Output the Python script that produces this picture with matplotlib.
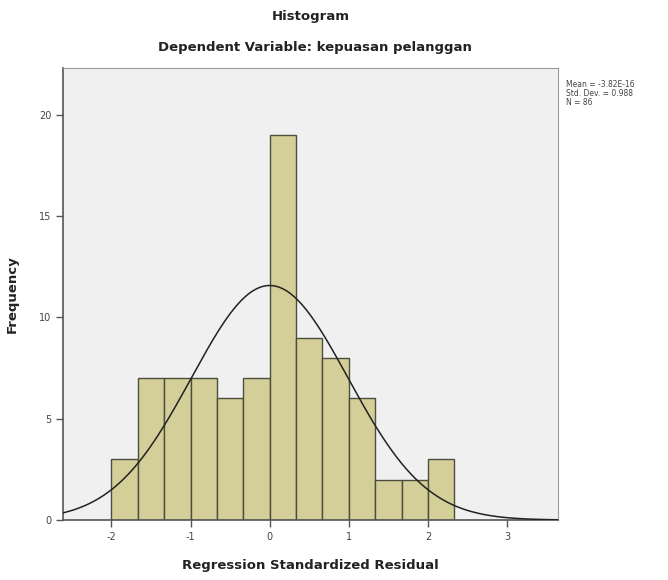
import numpy as np
from matplotlib import pyplot as plt

plt.rcParams['axes.unicode_minus'] = False

# histogram counts (bins start at -2, width 1/3)
bin_start = -2.0
bin_width = 1.0 / 3.0
counts = [3, 7, 7, 7, 6, 7, 19, 9, 8, 6, 2, 2, 3]

mean = -3.82e-16
std = 0.988
n = 86

x_ticks = [-2, -1, 0, 1, 2, 3]
y_ticks = [0, 5, 10, 15, 20]

edges = bin_start + bin_width * np.arange(len(counts))

fig = plt.figure(figsize=(6.68, 5.8), dpi=100)
ax = fig.add_axes([0.0943, 0.1034, 0.741, 0.779])
ax.set_facecolor('#f0f0f0')

ax.bar(edges, counts, width=bin_width, align='edge', color='#d4cf98',
       edgecolor='#4d4d3d', linewidth=1.0, zorder=2)

# fitted normal curve
xs = np.linspace(-2.61, 3.64, 400)
ys = n * bin_width * np.exp(-0.5 * ((xs - mean) / std) ** 2) / (std * np.sqrt(2 * np.pi))
ax.plot(xs, ys, color='#222222', linewidth=1.1, zorder=3)

ax.set_xlim(-2.61, 3.64)
ax.set_ylim(0, 22.3)
ax.set_xticks(x_ticks)
ax.set_yticks(y_ticks)
ax.tick_params(direction='out', length=5, width=1, color='#555555',
               labelsize=7, labelcolor='#444444')

for s in ['left', 'bottom']:
    ax.spines[s].set_color('#555555')
    ax.spines[s].set_linewidth(1.2)
for s in ['top', 'right']:
    ax.spines[s].set_color('#999999')
    ax.spines[s].set_linewidth(0.8)

ax.set_xlabel('Regression Standardized Residual', fontsize=9.5, fontweight='bold',
              color='#222222', labelpad=12)
ax.set_ylabel('Frequency', fontsize=9.5, fontweight='bold', color='#222222')
ax.yaxis.set_label_coords(-0.09, 0.5)

fig.text(0.465, 0.972, 'Histogram', ha='center', va='center', fontsize=9.5,
         fontweight='bold', color='#222222')
fig.text(0.472, 0.918, 'Dependent Variable: kepuasan pelanggan', ha='center',
         va='center', fontsize=9.5, fontweight='bold', color='#222222')

fig.text(0.847, 0.838, 'Mean = -3.82E-16\nStd. Dev. = 0.988\nN = 86',
         ha='left', va='center', fontsize=5.5, color='#444444', linespacing=1.0)

plt.savefig('out.png', dpi=100)
